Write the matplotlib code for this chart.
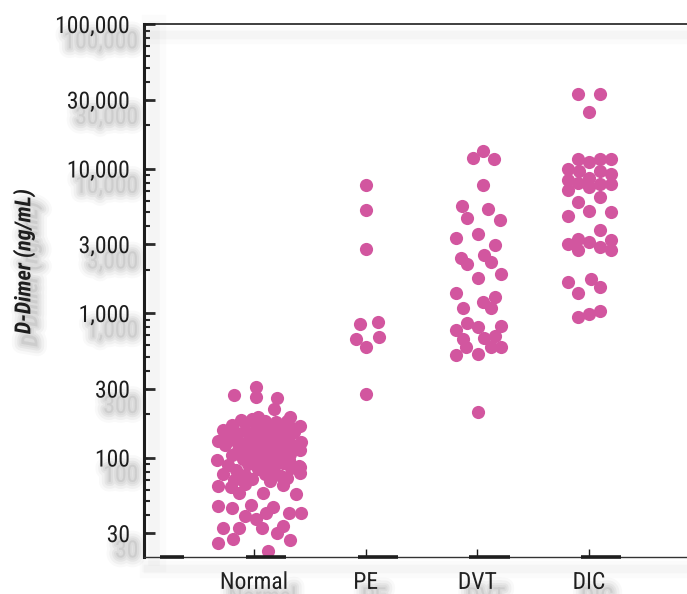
import matplotlib
matplotlib.use("Agg")
import matplotlib.pyplot as plt
import matplotlib.patheffects as pe
from matplotlib import font_manager
from matplotlib.ticker import LogLocator, FuncFormatter, NullFormatter

groups = ["Normal", "PE", "DVT", "DIC"]

normal = [271, 309, 261, 257, 217, 191, 165, 130, 96, 77, 63.5, 63, 56.5, 65.6, 56.5,
          64.6, 55.9, 85.5, 96, 46, 44.5, 46.9, 39.4, 37.3, 41.5, 45.2, 41.1, 41.1,
          32.4, 32.4, 32.4, 33.7, 30.2, 25.5, 27.2, 26.9, 22.5,
          182, 185, 178, 180, 190, 176,
          168, 170, 165, 172, 163,
          155, 152, 157, 154, 150, 158, 151,
          143, 145, 140, 144, 141, 146, 139,
          132, 130, 134, 131, 129, 136, 133,
          122, 124, 120, 123, 121, 126, 119,
          113, 115, 111, 114, 112, 117,
          104, 106, 103, 105, 108, 102,
          97, 95, 98, 99, 94,
          89, 90, 88, 91, 87, 92,
          82, 83, 81, 84, 80,
          76, 77, 75, 78,
          70, 71, 69, 72]
normal_jitter = [-0.18, 0.02, 0.02, 0.21, 0.18, 0.32, 0.41, -0.32, -0.33, -0.28, -0.32, -0.21,
                 -0.13, -0.08, 0.08, 0.26, 0.38, 0.41, 0.31, -0.32, -0.20, -0.03, -0.08, 0.02,
                 0.11, 0.17, 0.31, 0.42, -0.28, -0.13, 0.07, 0.26, 0.21, -0.32, -0.19, 0.32, 0.13,
                 -0.12, -0.02, 0.10, 0.30, 0.04, 0.20,
                 -0.20, 0.05, 0.20, -0.08, 0.32,
                 -0.28, -0.08, 0.14, 0.26, 0.36, 0.02, -0.17,
                 -0.24, -0.15, 0.00, 0.08, 0.22, 0.33, 0.15,
                 -0.18, -0.05, 0.12, 0.28, 0.42, 0.03, 0.20,
                 -0.26, -0.10, 0.03, 0.18, 0.36, 0.11, 0.26,
                 -0.14, -0.02, 0.10, 0.24, 0.41, 0.32,
                 -0.20, 0.06, 0.16, 0.32, -0.06, 0.24,
                 -0.10, 0.00, 0.21, 0.08, 0.14,
                 -0.23, -0.05, 0.12, 0.26, 0.40, 0.04,
                 -0.16, 0.04, 0.18, 0.33, 0.10,
                 -0.08, 0.10, 0.24, 0.41,
                 -0.18, -0.02, 0.14, 0.30]

pe_vals = [7700, 5200, 2770, 835, 863, 661, 680, 579, 275]
pe_jitter = [0, 0, 0, -0.05, 0.11, -0.09, 0.12, 0, 0]

dvt = [13150, 11770, 11700, 7650, 5500, 5210, 4570, 4400, 3320, 3540, 2955, 2390, 2190,
       2510, 2260, 1860, 1740, 1383, 1297, 1088, 1186, 1083, 857, 800, 813, 759, 661, 668,
       697, 585, 585, 585, 509, 523, 207]
dvt_jitter = [0.05, -0.04, 0.15, 0.05, -0.14, 0.10, -0.09, 0.20, -0.19, 0.01, 0.16, -0.15,
              -0.09, 0.06, 0.12, 0.21, 0.01, -0.19, 0.16, -0.13, 0.05, 0.12, -0.09, 0.01,
              0.21, -0.19, -0.13, 0.06, 0.16, -0.10, 0.12, 0.21, -0.19, 0.01, 0.01]

dic = [32600, 32600, 24500, 11700, 11150, 11700, 11600, 9970, 9610, 9650, 9160, 8320, 7980,
       8550, 7780, 7810, 7100, 7410, 5830, 6380, 4710, 5080, 5030, 3750, 2990, 3235, 2730,
       3085, 2875, 3200, 2730, 1630, 1720, 1368, 1506, 944, 985, 1033]
dic_jitter = [-0.10, 0.10, 0, -0.10, 0, 0.10, 0.20, -0.19, -0.09, 0.10, 0.20, -0.19, -0.10,
              0, 0.10, 0.20, -0.19, 0, -0.10, 0.10, -0.19, 0, 0.20, 0.10, -0.19, -0.10, -0.10,
              0, 0.10, 0.20, 0.20, -0.19, 0.02, -0.10, 0.10, -0.10, 0, 0.10]

values = [normal, pe_vals, dvt, dic]
jitters = [normal_jitter, pe_jitter, dvt_jitter, dic_jitter]

pink = "#d2569f"
ink = "#1e1e1e"

names = {f.name for f in font_manager.fontManager.ttflist}
font = "DejaVu Sans"
for f in ["Roboto Condensed", "Barlow Semi Condensed", "Archivo Narrow", "Asap Condensed"]:
    if f in names:
        font = f
        break


# soft drop shadow: stacked faint, widened copies instead of a real blur
def text_shadow(dx=6, dy=-11):
    out = []
    for lw, a in [(14, 0.025), (10, 0.035), (6, 0.045), (3, 0.04)]:
        out.append(pe.SimplePatchShadow(offset=(dx, dy), shadow_rgbFace="#888888",
                                        alpha=a, linewidth=lw))
    out.append(pe.Normal())
    return out


def line_shadow(dx, dy, lw):
    return [pe.SimpleLineShadow(offset=(dx, dy), shadow_color="#a0a0a0", alpha=0.04, linewidth=lw * 2.5),
            pe.SimpleLineShadow(offset=(dx, dy), shadow_color="#a0a0a0", alpha=0.06, linewidth=lw * 1.2),
            pe.Normal()]


fig = plt.figure(figsize=(6.87, 5.94), dpi=100)
ax = fig.add_axes([0.2096, 0.0623, 0.79, 0.8973])

for i, (vals, jit) in enumerate(zip(values, jitters)):
    xs = [i + 1 + j for j in jit]
    ax.scatter(xs, vals, s=90, color=pink, linewidths=0, zorder=3, clip_on=False)

ax.set_yscale("log")
ax.set_ylim(20.5, 100000)
ax.set_xlim(0.015, 4.876)

ax.yaxis.set_major_locator(LogLocator(base=10, subs=(1.0, 3.0)))
ax.yaxis.set_minor_locator(LogLocator(base=10, subs=(2, 4, 5, 6, 7, 8, 9)))
ax.yaxis.set_major_formatter(FuncFormatter(lambda v, p: f"{v:,.0f}"))
ax.yaxis.set_minor_formatter(NullFormatter())
ax.tick_params(axis="y", which="major", direction="in", length=8, width=2, color=ink,
               pad=10, labelsize=17, labelcolor=ink)
ax.tick_params(axis="y", which="minor", direction="in", length=4.5, width=1.5, color=ink)

ax.set_xticks(range(1, len(groups) + 1))
ax.set_xticklabels(groups)
ax.tick_params(axis="x", which="major", direction="in", length=6, width=1, color=ink,
               pad=10, labelsize=17, labelcolor=ink)
ax.tick_params(axis="x", which="minor", length=0)

for lab in ax.get_yticklabels() + ax.get_xticklabels():
    lab.set_fontfamily([font, "DejaVu Sans"])
    lab.set_path_effects(text_shadow())

ax.spines["right"].set_visible(False)
ax.spines["left"].set_linewidth(2.2)
ax.spines["left"].set_color(ink)
ax.spines["left"].set_path_effects(line_shadow(7, -2, 7))
ax.spines["top"].set_linewidth(1.2)
ax.spines["top"].set_color(ink)
ax.spines["top"].set_path_effects(line_shadow(4, -8, 5))
ax.spines["bottom"].set_linewidth(1.0)
ax.spines["bottom"].set_color("#333333")
ax.spines["bottom"].set_path_effects(line_shadow(3, -9, 5))

# thick dashes sitting on the bottom axis, as in the original artwork
xt = ax.get_xaxis_transform()
for c in [0.22] + list(range(1, len(groups) + 1)):
    left = c - 0.07 if c >= 1 else c - 0.06
    right = c + 0.29 if c >= 1 else c + 0.15
    ax.plot([left, right], [0, 0], color=ink, lw=2.6, transform=xt, clip_on=False,
            solid_capstyle="butt", zorder=4)

fig.text(0.035, 0.56, "D-Dimer (ng/mL)", rotation=90, ha="center", va="center",
         fontsize=16, fontweight="bold", fontstyle="italic", color=ink,
         family=[font, "DejaVu Sans"], path_effects=text_shadow(5, -9))

fig.savefig("out.png", dpi=100)
